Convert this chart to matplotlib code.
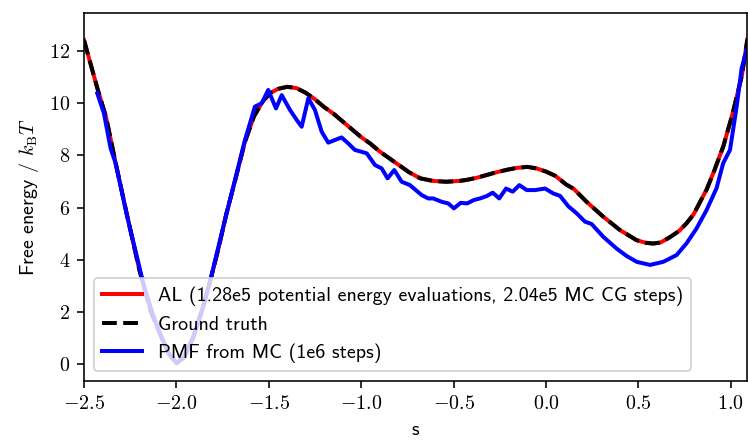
import matplotlib
matplotlib.use("Agg")
import matplotlib.pyplot as plt
from matplotlib.ticker import FuncFormatter

plt.rcParams['font.family'] = 'cmss10'
plt.rcParams['mathtext.fontset'] = 'cm'
plt.rcParams['axes.unicode_minus'] = False

# ground truth free energy profile
s_truth = [-2.5, -2.43, -2.38, -2.33, -2.27, -2.2, -2.14, -2.09, -2.04, -2.0,
           -1.96, -1.91, -1.86, -1.82, -1.77, -1.73, -1.68, -1.63, -1.58, -1.53,
           -1.49, -1.45, -1.40, -1.35, -1.30, -1.25, -1.20, -1.15, -1.10, -1.05,
           -1.0, -0.95, -0.90, -0.85, -0.79, -0.74, -0.68, -0.61, -0.54, -0.47,
           -0.43, -0.37, -0.32, -0.27, -0.21, -0.16, -0.10, -0.05, 0.0, 0.05,
           0.11, 0.15, 0.22, 0.31, 0.40, 0.49, 0.54, 0.58, 0.62, 0.67,
           0.72, 0.76, 0.80, 0.83, 0.87, 0.91, 0.96, 1.01, 1.06, 1.09]
f_truth = [12.42, 10.63, 9.45, 7.75, 5.8, 3.6, 2.05, 1.18, 0.38, 0.03,
           0.25, 1.0, 2.1, 3.1, 4.5, 5.75, 7.1, 8.5, 9.5, 10.1,
           10.4, 10.55, 10.63, 10.58, 10.4, 10.15, 9.85, 9.6, 9.3, 9.0,
           8.7, 8.45, 8.15, 7.9, 7.6, 7.35, 7.12, 7.02, 6.99, 7.02,
           7.06, 7.15, 7.25, 7.35, 7.45, 7.52, 7.56, 7.5, 7.38, 7.22,
           6.88, 6.72, 6.22, 5.65, 5.14, 4.75, 4.65, 4.62, 4.66, 4.86,
           5.1, 5.39, 5.75, 6.16, 6.7, 7.4, 8.35, 9.6, 11.05, 12.45]

# active learning estimate (on top of the ground truth)
s_al = s_truth
f_al = f_truth

# PMF from Monte Carlo
s_mc = [-2.428, -2.392, -2.356, -2.329, -2.266, -2.22, -2.179, -2.134, -2.089, -2.044,
        -1.998, -1.953, -1.908, -1.863, -1.818, -1.764, -1.728, -1.674, -1.656, -1.629,
        -1.575, -1.538, -1.503, -1.461, -1.430, -1.385, -1.349, -1.322, -1.286, -1.250,
        -1.214, -1.178, -1.106, -1.070, -1.034, -0.970, -0.925, -0.889, -0.857, -0.821,
        -0.781, -0.736, -0.673, -0.637, -0.610, -0.564, -0.529, -0.498, -0.462, -0.426,
        -0.390, -0.357, -0.321, -0.288, -0.253, -0.216, -0.180, -0.144, -0.104, -0.059,
        -0.005, 0.040, 0.076, 0.121, 0.166, 0.211, 0.247, 0.310, 0.382, 0.437,
        0.491, 0.563, 0.635, 0.707, 0.761, 0.815, 0.869, 0.923, 0.959, 0.996,
        1.032, 1.059, 1.086]
f_mc = [10.38, 9.61, 8.27, 7.70, 5.65, 4.3, 3.09, 2.05, 1.18, 0.45,
        0.03, 0.3, 1.05, 2.0, 3.16, 4.75, 5.78, 7.31, 7.82, 8.59,
        9.87, 10.0, 10.51, 9.80, 10.31, 9.74, 9.36, 9.10, 10.19, 9.74,
        8.91, 8.49, 8.69, 8.46, 8.21, 8.08, 7.63, 7.50, 7.12, 7.44,
        6.99, 6.86, 6.48, 6.35, 6.35, 6.22, 6.16, 5.97, 6.18, 6.16,
        6.29, 6.35, 6.44, 6.57, 6.35, 6.73, 6.61, 6.86, 6.67, 6.67,
        6.73, 6.54, 6.45, 6.05, 5.78, 5.46, 5.37, 4.88, 4.43, 4.14,
        3.92, 3.80, 3.92, 4.18, 4.63, 5.20, 5.90, 6.74, 7.70, 8.21,
        9.87, 11.34, 12.04]

fig = plt.figure(figsize=(748 / 144, 445 / 144), dpi=144)
ax = fig.add_axes([84 / 748, 1 - 381 / 445, 663 / 748, 368 / 445])

ax.plot(s_al, f_al, color='red', lw=2,
        label='AL (1.28e5 potential energy evaluations, 2.04e5 MC CG steps)')
ax.plot(s_truth, f_truth, color='black', lw=2, ls='--', label='Ground truth')
ax.plot(s_mc, f_mc, color='blue', lw=2, label='PMF from MC (1e6 steps)')

ax.set_xlim(-2.5, 1.088)
ax.set_ylim(-0.65, 13.46)
ax.set_xticks([-2.5, -2.0, -1.5, -1.0, -0.5, 0.0, 0.5, 1.0])
ax.set_yticks([0, 2, 4, 6, 8, 10, 12])
ax.xaxis.set_major_formatter(FuncFormatter(lambda v, p: r'$%.1f$' % v))
ax.yaxis.set_major_formatter(FuncFormatter(lambda v, p: r'$%d$' % v))

ax.set_xlabel('s')
ax.set_ylabel(r'Free energy / $k_\mathrm{B}T$')
ax.legend(loc='lower left')

fig.savefig('out.png', dpi=144)
